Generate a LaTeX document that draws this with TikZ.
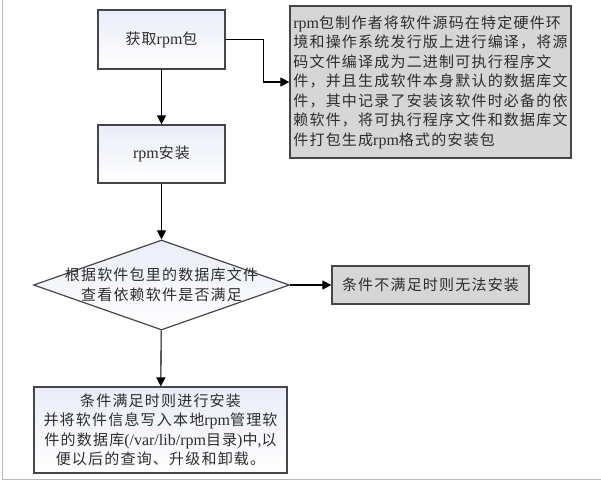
\documentclass[tikz,border=0pt]{standalone}
\usepackage{fontspec}
\usepackage{tikz}
\usetikzlibrary{shapes.geometric,arrows.meta,positioning}

\newfontfamily\cjk{Noto Sans CJK SC}[LetterSpace=8]
\newfontfamily\westfont{Liberation Serif}

\definecolor{edgegray}{RGB}{70,70,70}
\definecolor{notegray}{RGB}{214,214,214}
\definecolor{boxblue}{RGB}{234,237,248}
\definecolor{textgray}{RGB}{45,45,45}

\tikzset{
	txt/.style={font={\cjk\fontsize{15}{19.5}\selectfont}, text=textgray},
	block/.style={txt, draw=edgegray, line width=1.2pt, top color=boxblue, bottom color=white,
		inner sep=0pt},
	note/.style={txt, draw=edgegray, line width=1.2pt, fill=notegray, inner sep=0pt},
	decision/.style={shape=diamond, draw=edgegray, line width=1.2pt, top color=boxblue,
		bottom color=white, inner sep=0pt, minimum width=256pt, minimum height=90pt},
	arr/.style={draw=black, line width=1.1pt, -{Triangle[length=9pt,width=9pt]}}
}

\newcommand{\wt}[1]{{\westfont\fontsize{16}{19.5}\selectfont #1}}

\begin{document}
\begin{tikzpicture}[x=1pt,y=-1pt]
	\useasboundingbox (0,0) rectangle (601,482);

	% page edges
	\draw[gray!55, line width=1pt] (2.5,0) -- (2.5,479) -- (601,479);

	\node[block, minimum width=127pt, minimum height=59pt] (get) at (161.5,39.5) {获取\wt{rpm}包};
	\node[block, minimum width=127pt, minimum height=58pt] (install) at (161.5,154) {\wt{rpm}安装};
	\node[note, minimum width=281pt, minimum height=152pt, align=left] (desc) at (430.5,82)
		{\wt{rpm}包制作者将软件源码在特定硬件环\\
		境和操作系统发行版上进行编译，将源\\
		码文件编译成为二进制可执行程序文\\
		件，并且生成软件本身默认的数据库文\\
		件，其中记录了安装该软件时必备的依\\
		赖软件，将可执行程序文件和数据库文\\
		件打包生成\wt{rpm}格式的安装包};

	\node[decision] (check) at (161.5,285) {};
	\node[txt, align=center] (checktext) at (check.center)
		{根据软件包里的数据库文件\\查看依赖软件是否满足};

	\node[note, minimum width=197pt, minimum height=38pt] (fail) at (430.5,285) {条件不满足时则无法安装};
	\node[block, minimum width=253pt, minimum height=86pt, align=center] (done) at (160.5,430)
		{条件满足时则进行安装\\
		并将软件信息写入本地\wt{rpm}管理软\\
		件的数据库\wt{(/var/lib/rpm}目录\wt{)}中\wt{,}以\\
		便以后的查询、升级和卸载。};

	\path [arr]
	(get) edge (install)
	(install) edge (check)
	(check) edge (fail)
	(check) edge (done);

	\draw[arr] (get.east) -- ++(38,0) |- (desc.west);
\end{tikzpicture}
\end{document}
